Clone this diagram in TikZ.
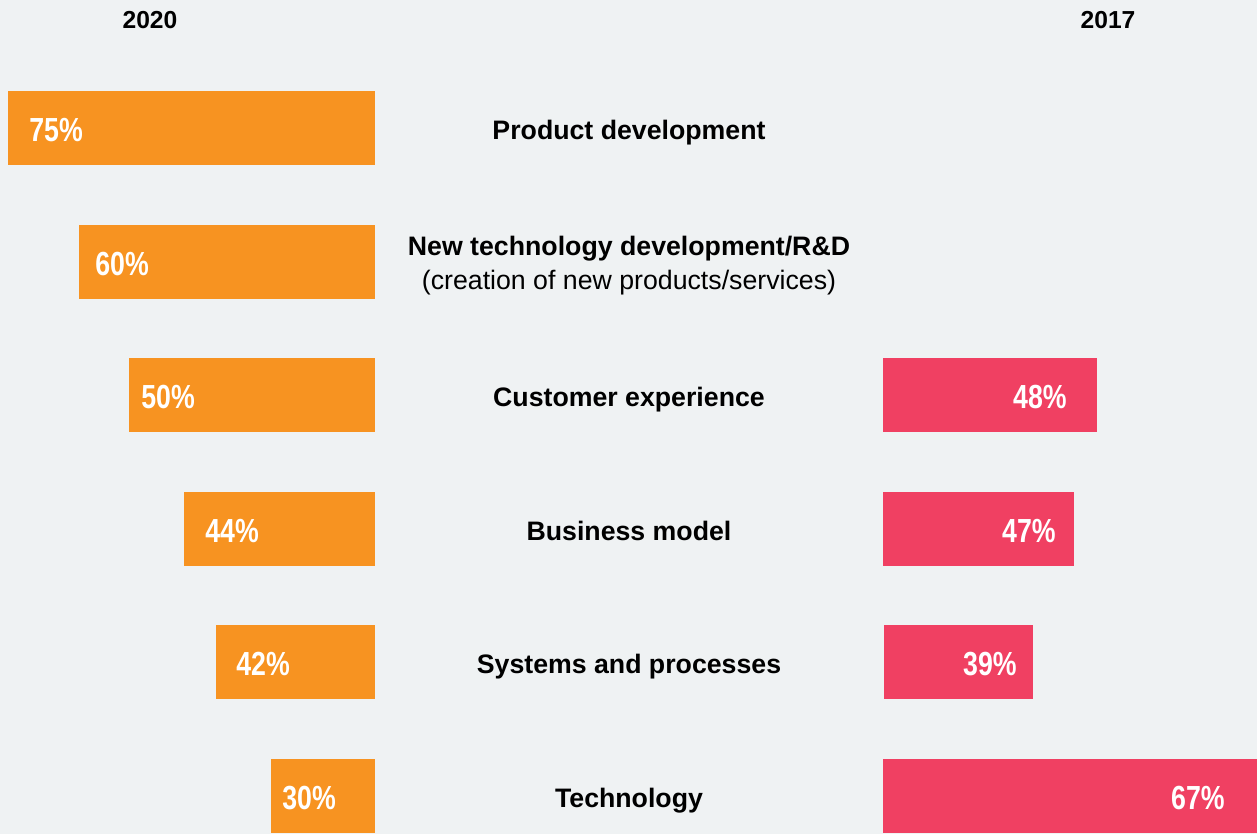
\documentclass[tikz,border=0pt]{standalone}
\usepackage{fontspec}
\setmainfont{Liberation Sans}
\newfontfamily\pctfont[FakeStretch=0.80]{Liberation Sans}
\usetikzlibrary{positioning}
\definecolor{bgcol}{HTML}{EFF2F3}
\definecolor{orangebar}{HTML}{F79321}
\definecolor{pinkbar}{HTML}{F04062}

\begin{document}
\begin{tikzpicture}[x=0.02cm, y=-0.02cm,
    bar/.style={inner sep=0pt, minimum height=1.48cm},
    bar20/.style={bar, fill=orangebar, anchor=east},
    bar17/.style={bar, fill=pinkbar, anchor=west},
    pct/.style={text=white, font=\pctfont\bfseries\fontsize{19}{19}\selectfont, inner sep=0pt},
    topic/.style={font=\bfseries\fontsize{15.2}{19.3}\selectfont, align=center, inner sep=0pt},
    year/.style={font=\bfseries\fontsize{14}{16}\selectfont, inner sep=0pt}]
   \fill[bgcol] (0,0) rectangle (1257,834);
   \useasboundingbox (0,0) rectangle (1257,834);

   % years
   \node[year] (y20) at (150,20) {2020};
   \node[year] (y17) at (1108,20) {2017};

   % 2020 bars
   \node[bar20, minimum width=7.34cm] (a1) at (375,128) {};
   \node[bar20, minimum width=5.92cm] (a2) at (375,262) {};
   \node[bar20, minimum width=4.92cm] (a3) at (375,395) {};
   \node[bar20, minimum width=3.82cm] (a4) at (375,529) {};
   \node[bar20, minimum width=3.18cm] (a5) at (375,662) {};
   \node[bar20, minimum width=2.08cm] (a6) at (375,796) {};

   \node[pct, anchor=west] (p1) at (29,130) {75\%};
   \node[pct, anchor=west] (p2) at (95,264) {60\%};
   \node[pct, anchor=west] (p3) at (141,397) {50\%};
   \node[pct, anchor=west] (p4) at (205,531) {44\%};
   \node[pct, anchor=west] (p5) at (236,664) {42\%};
   \node[pct, anchor=west] (p6) at (282,798) {30\%};

   % 2017 bars
   \node[bar17, minimum width=4.28cm] (c3) at (883,395) {};
   \node[bar17, minimum width=3.82cm] (c4) at (883,529) {};
   \node[bar17, minimum width=2.98cm] (c5) at (884,662) {};
   \node[bar17, minimum width=7.48cm] (c6) at (883,796) {};

   \node[pct, anchor=east] (q3) at (1067,397) {48\%};
   \node[pct, anchor=east] (q4) at (1056,531) {47\%};
   \node[pct, anchor=east] (q5) at (1017,664) {39\%};
   \node[pct, anchor=east] (q6) at (1225,798) {67\%};

   % topics
   \node[topic] (t1) at (629,133) {Product development};
   \node[topic] (t2) at (629,266) {New technology development/R\&D\\
      \mdseries(creation of new products/services)};
   \node[topic] (t3) at (629,400) {Customer experience};
   \node[topic] (t4) at (629,531) {Business model};
   \node[topic] (t5) at (629,667) {Systems and processes};
   \node[topic] (t6) at (629,801) {Technology};
\end{tikzpicture}
\end{document}
